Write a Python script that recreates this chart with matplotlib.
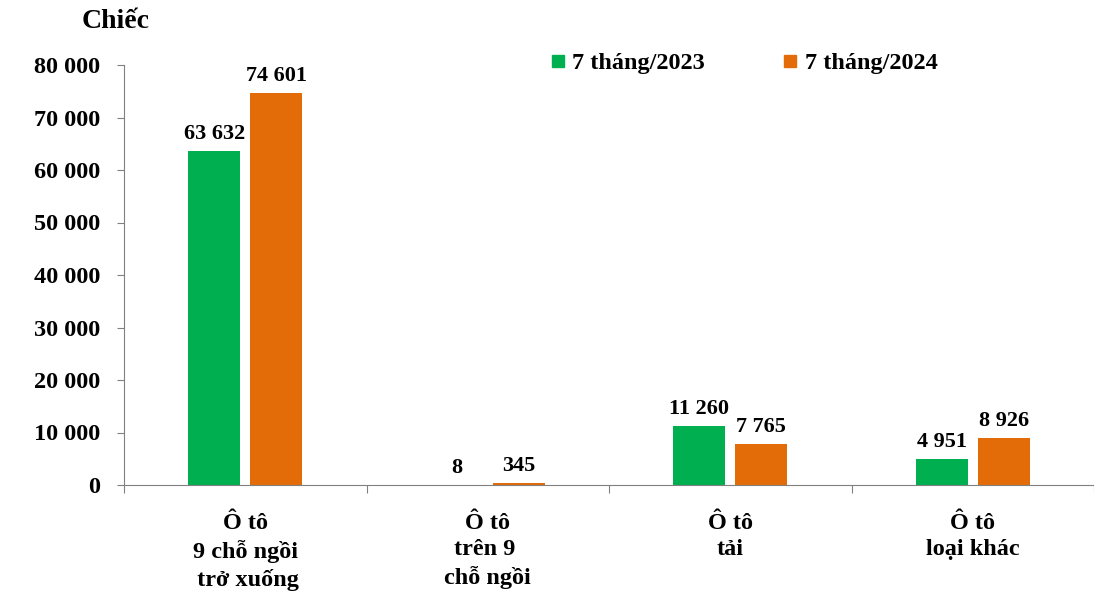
import matplotlib.pyplot as plt
from matplotlib.lines import Line2D
import numpy as np

plt.rcParams["font.family"] = ["Liberation Serif", "DejaVu Serif"]
plt.rcParams["font.weight"] = "bold"

categories = ["Ô tô\n9 chỗ ngồi\n trở xuống", "Ô tô\ntrên 9 \nchỗ ngồi", "Ô tô\ntải", "Ô tô\nloại khác"]
series_names = ["7 tháng/2023", "7 tháng/2024"]
values_2023 = [63632, 8, 11260, 4951]
values_2024 = [74601, 345, 7765, 8926]
y_ticks = [0, 10000, 20000, 30000, 40000, 50000, 60000, 70000, 80000]

GREEN = "#00B050"
ORANGE = "#E36C09"
AXIS_GRAY = "#808080"
FS = 17.5
FS_LABEL = 16


def fmt(v):
    return f"{v:,}".replace(",", " ")


def main() -> None:
    fig = plt.figure(figsize=(10.94, 6.06), dpi=100)
    ax = fig.add_axes([124 / 1094, 1 - 485 / 606, 1 - 124 / 1094, (485 - 65) / 606])

    x = np.arange(len(categories)) + 0.5
    width = 0.214
    offset = 0.128
    bars1 = ax.bar(x - offset, values_2023, width, color=GREEN)
    bars2 = ax.bar(x + offset, values_2024, width, color=ORANGE)

    for bars, vals in ((bars1, values_2023), (bars2, values_2024)):
        for b, v in zip(bars, vals):
            ax.annotate(fmt(v), (b.get_x() + b.get_width() / 2, b.get_height()),
                        xytext=(0, 5), textcoords="offset points",
                        ha="center", va="bottom", fontsize=FS_LABEL, fontweight="bold")

    ax.set_xlim(0, len(categories))
    ax.set_ylim(0, 80000)
    ax.set_yticks(y_ticks)
    ax.set_yticklabels([fmt(t) for t in y_ticks])
    ax.set_xticks(np.arange(len(categories) + 1))
    ax.set_xticklabels([])
    ax.set_xticks(x, minor=True)
    ax.set_xticklabels(categories, minor=True, fontsize=FS, fontweight="bold",
                       linespacing=1.34)
    ax.tick_params(axis="x", which="minor", length=0, pad=20)
    ax.tick_params(axis="x", which="major", length=6, color=AXIS_GRAY)
    ax.tick_params(axis="y", length=5, color=AXIS_GRAY, labelsize=FS, pad=12)

    for side in ("top", "right"):
        ax.spines[side].set_visible(False)
    for side in ("left", "bottom"):
        ax.spines[side].set_color(AXIS_GRAY)

    fig.text(82 / 1094, 1 - 22 / 606, "Chiếc", fontsize=20, fontweight="bold",
             ha="left", va="center")

    handles = [Line2D([], [], marker="s", linestyle="none", color=c, markersize=9)
               for c in (GREEN, ORANGE)]
    fig.legend(handles, series_names, loc="center", bbox_to_anchor=(744 / 1094, 1 - 63 / 606),
               ncol=2, frameon=False, fontsize=FS, handlelength=0.6, handletextpad=0.3,
               columnspacing=3.2, borderpad=0)

    fig.savefig("out.png", dpi=100)


if __name__ == "__main__":
    main()
